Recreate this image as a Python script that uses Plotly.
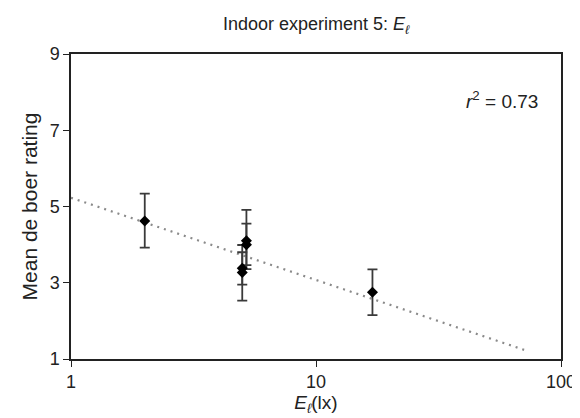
import plotly.graph_objects as go

# Data
lux = [2.0, 5.0, 5.0, 5.2, 5.2, 17.0]
rating = [4.62, 3.38, 3.27, 4.00, 4.10, 2.75]
err_plus = [0.72, 0.42, 0.72, 0.55, 0.81, 0.60]
err_minus = [0.70, 0.43, 0.74, 0.54, 0.74, 0.60]

trend_x = [1.0, 70.7]
trend_y = [5.23, 1.24]

x_ticks = [1, 10, 100]
y_ticks = [1, 3, 5, 7, 9]

FONT = "Liberation Sans, Arial, sans-serif"

fig = go.Figure()
fig.add_trace(go.Scatter(
    x=trend_x, y=trend_y, mode="lines",
    line=dict(color="#8a8a8a", width=2.2, dash="2px,5px"),
    hoverinfo="skip", showlegend=False))
fig.add_trace(go.Scatter(
    x=lux, y=rating, mode="markers",
    marker=dict(symbol="diamond", size=8.5, color="black"),
    error_y=dict(type="data", array=err_plus, arrayminus=err_minus,
                 color="#3a3a3a", thickness=1.8, width=5),
    showlegend=False))

fig.update_layout(
    width=580, height=418,
    margin=dict(l=63, r=24, t=46, b=67),
    paper_bgcolor="white", plot_bgcolor="white",
    font=dict(family=FONT, color="#222", size=18),
    title=dict(text="Indoor experiment 5: <i>E</i><sub><i>ℓ</i></sub>",
               x=0.531, xanchor="center", y=0.962, yanchor="middle",
               font=dict(size=18, color="#222")),
    annotations=[dict(text="<i>r</i><sup>2</sup> = 0.73", xref="paper", yref="paper",
                      x=0.957, y=0.848, xanchor="right", yanchor="middle",
                      showarrow=False, font=dict(size=19, color="#222"))],
)
fig.update_xaxes(type="log", range=[0, 2], tickvals=x_ticks, ticktext=[str(v) for v in x_ticks],
                 showgrid=False, zeroline=False, showline=True, linecolor="#222", linewidth=1.5,
                 mirror=True, ticks="outside", ticklen=6, tickcolor="#222",
                 tickfont=dict(size=18),
                 title=dict(text="<i>E</i><sub><i>ℓ</i></sub>(lx)", font=dict(size=19), standoff=1))
fig.update_yaxes(range=[1, 9], tickvals=y_ticks,
                 showgrid=False, zeroline=False, showline=True, linecolor="#222", linewidth=1.5,
                 mirror=True, ticks="outside", ticklen=6, tickcolor="#222",
                 tickfont=dict(size=18),
                 title=dict(text="Mean de boer rating", font=dict(size=21), standoff=6))

fig.write_html("out.html")
